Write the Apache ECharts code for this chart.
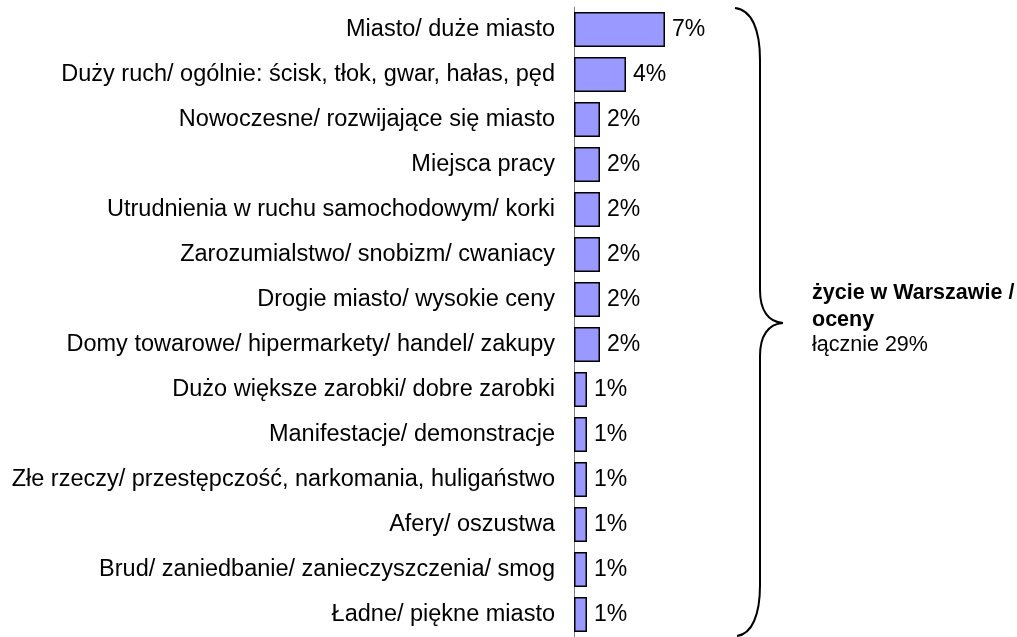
<!DOCTYPE html>
<html>
<head>
<meta charset="utf-8">
<script src="https://cdn.jsdelivr.net/npm/echarts@6/dist/echarts.min.js"></script>
<style>
    html, body { margin: 0; padding: 0; background: #fff; }
    #chart { width: 1017px; height: 637px; }
</style>
</head>
<body>
<div id="chart"></div>
<script>
// categories, top to bottom
let categories = [
    'Miasto/ duże miasto',
    'Duży ruch/ ogólnie: ścisk, tłok, gwar, hałas, pęd',
    'Nowoczesne/ rozwijające się miasto',
    'Miejsca pracy',
    'Utrudnienia w ruchu samochodowym/ korki',
    'Zarozumialstwo/ snobizm/ cwaniacy',
    'Drogie miasto/ wysokie ceny',
    'Domy towarowe/ hipermarkety/ handel/ zakupy',
    'Dużo większe zarobki/ dobre zarobki',
    'Manifestacje/ demonstracje',
    'Złe rzeczy/ przestępczość, narkomania, huligaństwo',
    'Afery/ oszustwa',
    'Brud/ zaniedbanie/ zanieczyszczenia/ smog',
    'Ładne/ piękne miasto'
];
let values = [7, 4, 2, 2, 2, 2, 2, 2, 1, 1, 1, 1, 1, 1];
let groupTitle = ['życie w Warszawie /', 'oceny'];
let groupTotal = 'łącznie 29%';

const font = "'Liberation Sans', Arial, sans-serif";
const brace = { stroke: '#000', lineWidth: 2, fill: null };

let myChart = echarts.init(document.getElementById('chart'));
let option = {
    animation: false,
    backgroundColor: '#fff',
    grid: { left: 574, top: 7, width: 130, bottom: -6, containLabel: false },
    xAxis: { type: 'value', min: 0, max: 10, show: false },
    yAxis: {
        type: 'category',
        inverse: true,
        data: categories,
        axisTick: { show: false },
        axisLine: { lineStyle: { color: '#808080', width: 1 } },
        axisLabel: { margin: 19, fontSize: 23.5, color: '#000', fontFamily: font }
    },
    series: [{
        type: 'bar',
        data: values,
        barWidth: 35,
        itemStyle: { color: '#9999ff', borderColor: '#000', borderWidth: 1.5 },
        label: {
            show: true,
            position: 'right',
            distance: 7,
            formatter: '{c}%',
            fontSize: 23,
            color: '#000',
            fontFamily: font
        }
    }],
    graphic: [
        // curly brace
        { type: 'bezierCurve', shape: { x1: 735, y1: 8, cpx1: 752, cpy1: 10, cpx2: 760, cpy2: 30, x2: 760, y2: 60 }, style: brace },
        { type: 'line', shape: { x1: 760, y1: 60, x2: 760, y2: 290 }, style: brace },
        { type: 'bezierCurve', shape: { x1: 760, y1: 290, cpx1: 760, cpy1: 310, cpx2: 768, cpy2: 322, x2: 783, y2: 323 }, style: brace },
        { type: 'bezierCurve', shape: { x1: 783, y1: 323, cpx1: 768, cpy1: 324, cpx2: 760, cpy2: 336, x2: 760, y2: 356 }, style: brace },
        { type: 'line', shape: { x1: 760, y1: 356, x2: 760, y2: 585 }, style: brace },
        { type: 'bezierCurve', shape: { x1: 760, y1: 585, cpx1: 760, cpy1: 615, cpx2: 752, cpy2: 634, x2: 737, y2: 636 }, style: brace },
        {
            type: 'text',
            left: 812,
            top: 280,
            style: {
                text: groupTitle.join('\n'),
                font: 'bold 21.5px ' + font,
                lineHeight: 27,
                fill: '#000'
            }
        },
        {
            type: 'text',
            left: 812,
            top: 334,
            style: {
                text: groupTotal,
                font: '21.5px ' + font,
                fill: '#000'
            }
        }
    ]
};
myChart.setOption(option);
</script>
</body>
</html>
